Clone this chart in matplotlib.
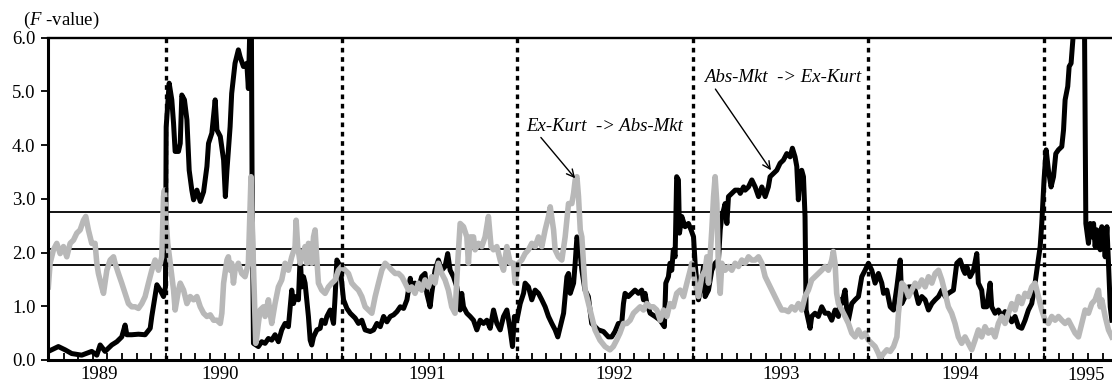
import matplotlib
matplotlib.use("Agg")
import matplotlib.pyplot as plt
import matplotlib.transforms as mtransforms

plt.rcParams['font.family'] = ['Liberation Serif', 'DejaVu Serif']
plt.rcParams['mathtext.fontset'] = 'custom'
plt.rcParams['mathtext.rm'] = 'Liberation Serif'
plt.rcParams['mathtext.it'] = 'Liberation Serif:italic'

# ---- data: Abs-Mkt -> Ex-Kurt (black) ----
black_x = [1989.330, 1989.387, 1989.425, 1989.463, 1989.520, 1989.577, 1989.606, 1989.625, 1989.653, 1989.691,
           1989.720, 1989.748, 1989.767, 1989.777, 1989.805, 1989.843, 1989.881, 1989.910, 1989.919, 1989.948,
           1989.967, 1989.986, 1989.997, 1990.001, 1990.018, 1990.033, 1990.043, 1990.052, 1990.071, 1990.081,
           1990.090, 1990.105, 1990.119, 1990.132, 1990.147, 1990.157, 1990.176, 1990.195, 1990.214, 1990.233,
           1990.242, 1990.261, 1990.280, 1990.290, 1990.309, 1990.328, 1990.338, 1990.347, 1990.365, 1990.374,
           1990.393, 1990.412, 1990.422, 1990.441, 1990.460, 1990.469, 1990.479, 1990.486, 1990.490, 1990.498,
           1990.526, 1990.545, 1990.564, 1990.583, 1990.602, 1990.621, 1990.640, 1990.659, 1990.678, 1990.697,
           1990.716, 1990.726, 1990.735, 1990.754, 1990.764, 1990.773, 1990.783, 1990.792, 1990.811, 1990.821,
           1990.830, 1990.840, 1990.859, 1990.878, 1990.887, 1990.906, 1990.916, 1990.935, 1990.954, 1990.963,
           1990.973, 1990.992, 1991.001, 1991.011, 1991.030, 1991.049, 1991.077, 1991.096, 1991.115, 1991.134,
           1991.163, 1991.182, 1991.201, 1991.220, 1991.239, 1991.258, 1991.277, 1991.296, 1991.315, 1991.334,
           1991.353, 1991.372, 1991.391, 1991.399, 1991.418, 1991.437, 1991.456, 1991.475, 1991.485, 1991.504,
           1991.513, 1991.532, 1991.551, 1991.570, 1991.589, 1991.604, 1991.618, 1991.637, 1991.656, 1991.675,
           1991.684, 1991.694, 1991.713, 1991.732, 1991.751, 1991.770, 1991.789, 1991.808, 1991.827, 1991.846,
           1991.865, 1991.884, 1991.903, 1991.922, 1991.941, 1991.960, 1991.973, 1991.984, 1991.998, 1992.017,
           1992.036, 1992.045, 1992.064, 1992.083, 1992.102, 1992.121, 1992.140, 1992.159, 1992.178, 1992.197,
           1992.216, 1992.231, 1992.245, 1992.264, 1992.283, 1992.292, 1992.302, 1992.321, 1992.330, 1992.340,
           1992.353, 1992.368, 1992.386, 1992.405, 1992.424, 1992.443, 1992.462, 1992.491, 1992.519, 1992.538,
           1992.557, 1992.576, 1992.595, 1992.605, 1992.614, 1992.633, 1992.652, 1992.671, 1992.690, 1992.709,
           1992.719, 1992.728, 1992.738, 1992.757, 1992.785, 1992.814, 1992.838, 1992.846, 1992.861, 1992.870,
           1992.880, 1992.889, 1992.899, 1992.908, 1992.918, 1992.924, 1992.937, 1992.956, 1992.975, 1992.990,
           1993.004, 1993.013, 1993.023, 1993.032, 1993.042, 1993.061, 1993.070, 1993.089, 1993.108, 1993.127,
           1993.146, 1993.156, 1993.165, 1993.175, 1993.184, 1993.194, 1993.203, 1993.222, 1993.241, 1993.260,
           1993.270, 1993.289, 1993.298, 1993.317, 1993.336, 1993.355, 1993.374, 1993.393, 1993.412, 1993.430,
           1993.440, 1993.459, 1993.478, 1993.497, 1993.516, 1993.535, 1993.554, 1993.567, 1993.582, 1993.592,
           1993.601, 1993.611, 1993.620, 1993.630, 1993.639, 1993.645, 1993.658, 1993.668, 1993.677, 1993.696,
           1993.715, 1993.734, 1993.753, 1993.772, 1993.791, 1993.810, 1993.829, 1993.839, 1993.848, 1993.867,
           1993.877, 1993.886, 1993.905, 1993.924, 1993.943, 1993.962, 1993.981, 1994.000, 1994.019, 1994.038,
           1994.057, 1994.076, 1994.086, 1994.105, 1994.124, 1994.143, 1994.162, 1994.181, 1994.190, 1994.209,
           1994.228, 1994.247, 1994.266, 1994.285, 1994.304, 1994.323, 1994.342, 1994.361, 1994.380, 1994.399,
           1994.418, 1994.437, 1994.455, 1994.484, 1994.503, 1994.522, 1994.541, 1994.550, 1994.560, 1994.579,
           1994.598, 1994.617, 1994.626, 1994.645, 1994.655, 1994.674, 1994.693, 1994.702, 1994.721, 1994.740,
           1994.759, 1994.778, 1994.797, 1994.816, 1994.835, 1994.854, 1994.873, 1994.892, 1994.911, 1994.930,
           1994.949, 1994.959, 1994.978, 1994.987, 1995.000, 1995.012, 1995.025, 1995.040, 1995.054, 1995.067,
           1995.082, 1995.101, 1995.111, 1995.120, 1995.135, 1995.143, 1995.154, 1995.164, 1995.173, 1995.230,
           1995.238, 1995.253, 1995.263, 1995.272, 1995.282, 1995.291, 1995.301, 1995.310, 1995.320, 1995.329,
           1995.339, 1995.348, 1995.358, 1995.367, 1995.377, 1995.386]
black_y = [0.16, 0.25, 0.19, 0.12, 0.09, 0.16, 0.09, 0.28, 0.16, 0.28,
           0.34, 0.43, 0.65, 0.47, 0.47, 0.48, 0.47, 0.59, 0.81, 1.40,
           1.30, 1.18, 1.36, 4.34, 5.15, 4.84, 4.40, 3.88, 3.88, 4.03,
           4.93, 4.84, 4.47, 3.53, 3.16, 2.98, 3.16, 2.95, 3.13, 3.60,
           4.03, 4.22, 4.84, 4.28, 4.16, 3.72, 3.04, 3.53, 4.34, 4.96,
           5.52, 5.77, 5.64, 5.46, 5.52, 5.05, 6.40, 6.40, 3.41, 0.31,
           0.25, 0.34, 0.31, 0.40, 0.37, 0.47, 0.34, 0.56, 0.68, 0.62,
           1.30, 1.05, 1.18, 1.12, 1.92, 1.36, 1.55, 1.43, 0.81, 0.37,
           0.28, 0.43, 0.56, 0.59, 0.74, 0.68, 0.81, 0.93, 0.68, 1.18,
           1.86, 1.74, 1.43, 1.12, 0.96, 0.87, 0.78, 0.68, 0.74, 0.56,
           0.53, 0.56, 0.68, 0.62, 0.81, 0.71, 0.81, 0.84, 0.90, 0.99,
           0.96, 1.12, 1.52, 1.36, 1.43, 1.33, 1.55, 1.61, 1.24, 0.99,
           1.24, 1.67, 1.86, 1.67, 1.74, 1.98, 1.67, 1.55, 1.36, 0.93,
           1.24, 0.99, 0.87, 0.81, 0.74, 0.56, 0.74, 0.68, 0.74, 0.59,
           0.93, 0.68, 0.56, 0.81, 0.93, 0.56, 0.25, 0.81, 0.74, 1.05,
           1.24, 1.43, 1.36, 1.12, 1.30, 1.24, 1.12, 0.99, 0.81, 0.68,
           0.56, 0.43, 0.62, 0.87, 1.55, 1.61, 1.24, 1.43, 1.80, 2.29,
           2.17, 1.67, 1.30, 1.18, 0.68, 0.62, 0.56, 0.53, 0.43, 0.43,
           0.53, 0.68, 0.68, 1.05, 1.24, 1.18, 1.24, 1.30, 1.24, 1.30,
           1.12, 1.24, 1.05, 0.87, 0.81, 0.74, 0.62, 1.43, 1.55, 1.80,
           1.67, 2.05, 1.92, 3.41, 3.35, 2.36, 2.67, 2.48, 2.54, 2.42,
           2.29, 1.80, 1.43, 1.12, 1.30, 1.74, 1.18, 1.30, 1.67, 1.80,
           1.86, 2.42, 2.67, 2.79, 2.91, 2.54, 3.04, 3.10, 3.16, 3.16,
           3.10, 3.22, 3.16, 3.22, 3.35, 3.22, 3.04, 3.22, 3.04, 3.22,
           3.41, 3.47, 3.53, 3.66, 3.72, 3.84, 3.78, 3.94, 3.78, 3.60,
           2.98, 3.47, 3.53, 3.41, 2.67, 0.93, 0.74, 0.59, 0.81, 0.87,
           0.81, 0.99, 0.87, 0.87, 0.74, 0.93, 0.81, 1.12, 1.05, 1.30,
           0.93, 0.74, 1.05, 1.12, 1.18, 1.55, 1.67, 1.80, 1.67, 1.43,
           1.61, 1.43, 1.24, 1.30, 0.99, 0.93, 1.36, 1.86, 1.05, 1.18,
           1.36, 1.36, 1.30, 1.05, 1.18, 1.12, 0.93, 1.05, 1.12, 1.18,
           1.30, 1.18, 1.24, 1.30, 1.80, 1.86, 1.67, 1.61, 1.74, 1.55,
           1.67, 1.98, 1.43, 1.30, 0.99, 0.99, 1.43, 0.99, 0.87, 0.93,
           0.81, 0.90, 0.81, 0.71, 0.81, 0.62, 0.59, 0.74, 0.93, 1.05,
           1.43, 1.67, 2.11, 2.54, 3.35, 3.91, 3.53, 3.22, 3.41, 3.84,
           3.91, 3.97, 4.28, 4.84, 5.09, 5.46, 5.52, 5.95, 6.40, 6.40,
           2.54, 2.17, 2.54, 2.29, 2.54, 2.11, 2.42, 2.17, 2.05, 2.48,
           2.36, 1.92, 2.48, 1.80, 0.99, 0.74]

# ---- data: Ex-Kurt -> Abs-Mkt (grey) ----
gray_x = [1989.330, 1989.340, 1989.359, 1989.378, 1989.397, 1989.416, 1989.435, 1989.454, 1989.473, 1989.492,
          1989.511, 1989.530, 1989.543, 1989.558, 1989.577, 1989.596, 1989.606, 1989.615, 1989.634, 1989.644,
          1989.663, 1989.682, 1989.701, 1989.710, 1989.729, 1989.748, 1989.767, 1989.786, 1989.805, 1989.824,
          1989.843, 1989.862, 1989.881, 1989.900, 1989.919, 1989.938, 1989.957, 1989.976, 1989.986, 1989.991,
          1989.999, 1990.010, 1990.024, 1990.043, 1990.052, 1990.071, 1990.081, 1990.100, 1990.119, 1990.138,
          1990.157, 1990.176, 1990.195, 1990.214, 1990.233, 1990.252, 1990.271, 1990.290, 1990.309, 1990.318,
          1990.328, 1990.347, 1990.355, 1990.365, 1990.374, 1990.384, 1990.393, 1990.412, 1990.431, 1990.450,
          1990.469, 1990.484, 1990.492, 1990.503, 1990.511, 1990.517, 1990.526, 1990.536, 1990.555, 1990.564,
          1990.583, 1990.593, 1990.602, 1990.621, 1990.640, 1990.659, 1990.678, 1990.697, 1990.716, 1990.735,
          1990.741, 1990.750, 1990.764, 1990.773, 1990.792, 1990.802, 1990.811, 1990.820, 1990.830, 1990.840,
          1990.849, 1990.858, 1990.868, 1990.887, 1990.906, 1990.925, 1990.944, 1990.963, 1990.982, 1991.001,
          1991.020, 1991.039, 1991.058, 1991.077, 1991.096, 1991.115, 1991.134, 1991.153, 1991.172, 1991.191,
          1991.210, 1991.229, 1991.248, 1991.267, 1991.286, 1991.305, 1991.324, 1991.343, 1991.362, 1991.381,
          1991.399, 1991.418, 1991.437, 1991.456, 1991.475, 1991.494, 1991.513, 1991.532, 1991.551, 1991.570,
          1991.589, 1991.608, 1991.627, 1991.646, 1991.661, 1991.675, 1991.694, 1991.713, 1991.722, 1991.732,
          1991.751, 1991.760, 1991.779, 1991.798, 1991.817, 1991.836, 1991.851, 1991.865, 1991.884, 1991.903,
          1991.922, 1991.941, 1991.960, 1991.979, 1991.988, 1992.007, 1992.026, 1992.045, 1992.064, 1992.083,
          1992.102, 1992.121, 1992.140, 1992.159, 1992.178, 1992.188, 1992.207, 1992.216, 1992.235, 1992.254,
          1992.273, 1992.292, 1992.311, 1992.321, 1992.330, 1992.340, 1992.349, 1992.359, 1992.368, 1992.387,
          1992.396, 1992.424, 1992.443, 1992.471, 1992.500, 1992.528, 1992.547, 1992.566, 1992.585, 1992.605,
          1992.624, 1992.643, 1992.662, 1992.681, 1992.700, 1992.719, 1992.738, 1992.757, 1992.775, 1992.795,
          1992.814, 1992.833, 1992.852, 1992.870, 1992.889, 1992.908, 1992.928, 1992.947, 1992.966, 1992.985,
          1992.994, 1993.013, 1993.032, 1993.051, 1993.070, 1993.080, 1993.089, 1993.108, 1993.118, 1993.127,
          1993.137, 1993.146, 1993.156, 1993.165, 1993.184, 1993.203, 1993.222, 1993.241, 1993.260, 1993.279,
          1993.298, 1993.317, 1993.336, 1993.355, 1993.374, 1993.393, 1993.412, 1993.430, 1993.449, 1993.468,
          1993.487, 1993.506, 1993.525, 1993.544, 1993.563, 1993.582, 1993.601, 1993.620, 1993.639, 1993.658,
          1993.677, 1993.696, 1993.715, 1993.734, 1993.753, 1993.772, 1993.791, 1993.800, 1993.810, 1993.819,
          1993.829, 1993.848, 1993.867, 1993.886, 1993.905, 1993.924, 1993.943, 1993.962, 1993.981, 1994.000,
          1994.019, 1994.038, 1994.057, 1994.067, 1994.086, 1994.105, 1994.124, 1994.143, 1994.162, 1994.171,
          1994.181, 1994.190, 1994.209, 1994.228, 1994.247, 1994.266, 1994.285, 1994.304, 1994.323, 1994.342,
          1994.361, 1994.380, 1994.399, 1994.418, 1994.437, 1994.455, 1994.474, 1994.493, 1994.512, 1994.531,
          1994.550, 1994.569, 1994.588, 1994.607, 1994.626, 1994.645, 1994.664, 1994.683, 1994.702, 1994.721,
          1994.740, 1994.759, 1994.778, 1994.797, 1994.816, 1994.835, 1994.854, 1994.873, 1994.892, 1994.911,
          1994.930, 1994.949, 1994.968, 1994.987, 1995.006, 1995.025, 1995.044, 1995.063, 1995.082, 1995.101,
          1995.120, 1995.139, 1995.158, 1995.177, 1995.196, 1995.215, 1995.234, 1995.253, 1995.272, 1995.291,
          1995.310, 1995.320, 1995.329, 1995.348, 1995.367, 1995.386]
gray_y = [1.36, 1.80, 2.05, 2.17, 1.98, 2.11, 1.92, 2.17, 2.23, 2.36,
          2.42, 2.60, 2.67, 2.42, 2.17, 2.17, 1.80, 1.61, 1.36, 1.24,
          1.67, 1.86, 1.92, 1.80, 1.61, 1.43, 1.24, 1.05, 0.99, 0.99,
          0.96, 1.05, 1.18, 1.43, 1.67, 1.86, 1.67, 1.92, 3.04, 3.16,
          2.67, 2.17, 1.80, 1.30, 0.93, 1.30, 1.43, 1.30, 1.05, 1.18,
          1.12, 1.18, 0.99, 0.87, 0.81, 0.84, 0.74, 0.74, 0.68, 0.87,
          1.43, 1.86, 1.92, 1.67, 1.80, 1.43, 1.67, 1.80, 1.61, 1.55,
          1.80, 3.41, 2.42, 1.18, 0.31, 0.43, 0.68, 0.93, 0.99, 0.81,
          1.12, 0.87, 0.68, 1.05, 1.36, 1.49, 1.80, 1.67, 1.92, 2.11,
          2.60, 2.11, 1.80, 1.92, 2.11, 1.80, 2.17, 2.11, 1.80, 2.29,
          2.42, 1.92, 1.43, 1.30, 1.24, 1.36, 1.43, 1.49, 1.67, 1.74,
          1.67, 1.61, 1.43, 1.36, 1.30, 1.18, 0.99, 0.93, 0.87, 1.18,
          1.43, 1.67, 1.80, 1.74, 1.67, 1.61, 1.61, 1.55, 1.43, 1.30,
          1.36, 1.24, 1.43, 1.30, 1.49, 1.36, 1.55, 1.43, 1.80, 1.61,
          1.49, 1.30, 0.99, 0.87, 1.80, 2.54, 2.48, 2.29, 1.80, 2.29,
          2.29, 2.05, 2.17, 2.11, 2.29, 2.67, 2.11, 2.05, 2.11, 1.86,
          1.67, 2.11, 1.80, 1.80, 1.43, 1.80, 1.86, 1.98, 2.05, 2.17,
          2.11, 2.29, 2.11, 2.42, 2.67, 2.85, 2.42, 2.05, 1.92, 1.86,
          2.29, 2.91, 2.91, 3.10, 3.35, 3.41, 3.04, 2.42, 2.29, 1.30,
          1.18, 0.81, 0.56, 0.37, 0.25, 0.19, 0.25, 0.37, 0.50, 0.68,
          0.68, 0.74, 0.87, 0.93, 0.99, 0.93, 1.05, 0.99, 0.99, 0.93,
          0.74, 0.93, 0.81, 1.05, 0.99, 1.24, 1.30, 1.18, 1.43, 1.67,
          1.80, 1.43, 1.18, 1.55, 1.67, 1.92, 1.43, 2.42, 3.04, 3.41,
          2.91, 1.67, 1.24, 1.80, 1.67, 1.74, 1.67, 1.80, 1.74, 1.86,
          1.80, 1.92, 1.86, 1.86, 1.92, 1.80, 1.55, 1.43, 1.30, 1.18,
          1.05, 0.93, 0.93, 0.90, 0.99, 0.93, 1.05, 0.93, 1.18, 1.30,
          1.49, 1.55, 1.61, 1.67, 1.74, 1.67, 1.86, 2.02, 1.80, 1.24,
          1.05, 0.93, 0.81, 0.68, 0.50, 0.43, 0.56, 0.43, 0.50, 0.37,
          0.31, 0.25, 0.12, 0.03, 0.12, 0.19, 0.16, 0.25, 0.43, 0.87,
          1.18, 1.43, 1.36, 1.18, 1.30, 1.43, 1.36, 1.49, 1.36, 1.55,
          1.43, 1.61, 1.67, 1.49, 1.24, 0.99, 0.87, 0.68, 0.43, 0.31,
          0.43, 0.31, 0.19, 0.37, 0.56, 0.43, 0.62, 0.50, 0.56, 0.43,
          0.68, 0.81, 0.68, 0.87, 1.05, 0.93, 1.18, 1.05, 1.24, 1.18,
          1.36, 1.43, 1.18, 0.93, 0.74, 0.68, 0.81, 0.74, 0.81, 0.74,
          0.68, 0.74, 0.62, 0.50, 0.43, 0.68, 0.93, 0.87, 1.05, 1.12,
          1.30, 0.99, 1.12, 0.81, 0.56, 0.43]

crit_values = [2.76, 2.06, 1.76]
year_marks = [1990, 1991, 1992, 1993, 1994, 1995]
year_labels = ['1989', '1990', '1991', '1992', '1993', '1994', '1995']
year_label_pos = [1989.621, 1990.308, 1991.489, 1992.554, 1993.502, 1994.522, 1995.239]
y_ticks = [0, 1, 2, 3, 4, 5, 6]

FS = 13.5

fig = plt.figure(figsize=(11.12, 3.85), dpi=100)
ax = fig.add_axes([48 / 1112, 25 / 385, 1064 / 1112, 322.5 / 385])
ax.set_xlim(1989.328, 1995.387)
ax.set_ylim(0, 6)

# horizontal reference lines
ax.axhline(6.0, color='black', lw=1.7, zorder=2, clip_on=False)
for cv in crit_values:
    ax.axhline(cv, color='black', lw=1.3, zorder=2)

ax.plot(black_x, black_y, color='black', lw=3.6, solid_joinstyle='round', zorder=3)
ax.plot(gray_x, gray_y, color='#b8b8b8', lw=4.0, solid_joinstyle='round', zorder=4)

for ym in year_marks:
    ax.axvline(ym, color='black', lw=2.4, linestyle=(0, (1.4, 1.4)), zorder=5)

# spines
for s in ['top', 'right']:
    ax.spines[s].set_visible(False)
ax.spines['left'].set_linewidth(2.2)
ax.spines['bottom'].set_linewidth(2.2)
ax.spines['left'].set_zorder(6)
ax.spines['bottom'].set_zorder(6)

ax.set_yticks(y_ticks)
ax.set_yticklabels([f'{v:.1f}' for v in y_ticks], fontsize=FS)
ax.tick_params(axis='y', direction='out', length=5, width=1.3, pad=4)

# monthly ticks on x
months = [1989 + m / 12 for m in range(5, 12 * 6 + 5)]
ax.set_xticks(months)
ax.set_xticklabels([])
ax.tick_params(axis='x', direction='in', length=5, width=1.3)

trans = mtransforms.blended_transform_factory(ax.transData, ax.transAxes)
for lab, pos in zip(year_labels, year_label_pos):
    dy = -0.047 if lab == '1995' else -0.044
    ax.text(pos, dy, lab, transform=trans, ha='center', va='center', fontsize=FS)

ax.text(-0.0235, 1.054, r'($\mathit{F}$ -value)', transform=ax.transAxes,
        ha='left', va='center', fontsize=FS)

ax.annotate('Ex-Kurt  -> Abs-Mkt', xy=(1992.330, 3.38), xytext=(1992.050, 4.35),
            fontsize=FS, style='italic', ha='left', va='center',
            arrowprops=dict(arrowstyle='->', color='black', lw=1.0,
                            shrinkA=0, shrinkB=0, relpos=(0.08, 0.0)), zorder=7)
ax.annotate('Abs-Mkt  -> Ex-Kurt', xy=(1993.445, 3.53), xytext=(1993.064, 5.25),
            fontsize=FS, style='italic', ha='left', va='center',
            arrowprops=dict(arrowstyle='->', color='black', lw=1.0,
                            shrinkA=0, shrinkB=0, relpos=(0.06, 0.0)), zorder=7)

fig.savefig('out.png', dpi=100)
